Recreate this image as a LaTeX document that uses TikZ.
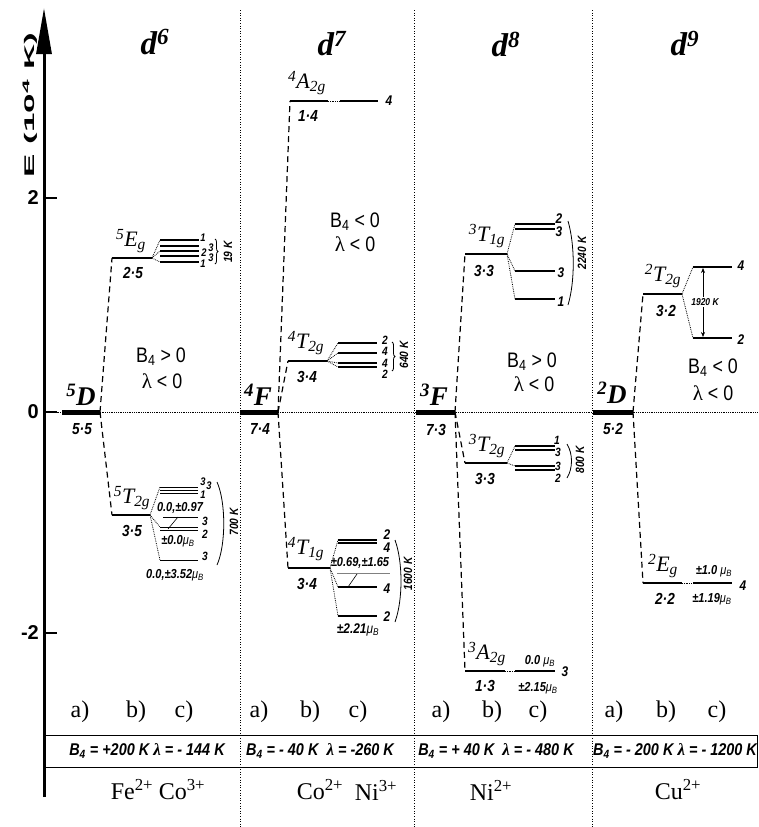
\documentclass[tikz,border=0pt]{standalone}
\usepackage{graphicx}
\usepackage{fontspec}
\setmainfont{Liberation Serif}
\setsansfont{Liberation Sans}
\newfontfamily\condsf[FakeStretch=0.85]{Liberation Sans}
\usetikzlibrary{arrows.meta,decorations.pathreplacing}
\newcommand{\term}[3]{\textsuperscript{#1}#2\textsubscript{#3}}
\newcommand{\muB}{{\mdseries μ\textsubscript{B}}}

\begin{document}
\begin{tikzpicture}[x=1pt,y=-1pt,
	big/.style={line width=5pt},
	mid/.style={line width=2.8pt},
	sub/.style={line width=1.5pt},
	thin/.style={line width=1pt},
	link/.style={dash pattern=on 6pt off 4pt,line width=1.2pt},
	fan/.style={densely dotted,line width=0.8pt},
	sep/.style={dotted,line width=0.6pt},
	zero/.style={densely dotted,line width=0.8pt},
	pointer/.style={line width=0.6pt},
	head/.style={font=\bfseries\itshape\fontsize{33}{33}\selectfont},
	mainterm/.style={inner sep=0pt,font=\bfseries\itshape\fontsize{27}{27}\selectfont},
	trm/.style={inner sep=0pt,font=\itshape\fontsize{22}{22}\selectfont},
	lab/.style={inner sep=0pt,font=\condsf\bfseries\itshape\fontsize{16}{16}\selectfont},
	num/.style={inner sep=0pt,font=\condsf\bfseries\itshape\fontsize{14}{14}\selectfont},
	stack/.style={inner sep=0pt,font=\condsf\bfseries\itshape\fontsize{12}{12}\selectfont},
	tiny/.style={inner sep=0pt,font=\condsf\bfseries\itshape\fontsize{11}{11}\selectfont},
	mom/.style={inner sep=0pt,font=\condsf\bfseries\itshape\fontsize{13}{13}\selectfont},
	split/.style={inner sep=0pt,rotate=90,font=\condsf\bfseries\itshape\fontsize{12}{12}\selectfont},
	cond/.style={inner sep=0pt,font=\condsf\fontsize{21}{21}\selectfont},
	tick/.style={inner sep=0pt,font=\sffamily\bfseries\fontsize{20}{20}\selectfont},
	abc/.style={inner sep=0pt,font=\fontsize{24}{24}\selectfont},
	param/.style={inner sep=0pt,font=\condsf\bfseries\itshape\fontsize{17}{17}\selectfont},
	ion/.style={inner sep=0pt,font=\fontsize{24}{24}\selectfont}]
	\useasboundingbox (0,0) rectangle (759,827);
	\foreach \x in {240,414,592}
		\draw[sep] (\x,10) -- (\x,827);
	\draw[zero] (44,412) -- (757,412);

	\coordinate (E0) at (44,797);
	\coordinate (E1) at (44,8);
	\draw[line width=3pt,-{Triangle[length=46pt,width=15pt]}] (E0) -- (E1);
	\foreach \y/\lbl in {198/2,412/0,633/-2} {
		\draw[line width=2pt] (44,\y) -- (57,\y);
		\node[tick,anchor=east] (t\lbl) at (39,\y) {\lbl};
	}
	\node[rotate=90,font=\sffamily\bfseries\fontsize{14}{14}\selectfont] (Elab) at (30,105) {\scalebox{2.5}[1]{E (10\textsuperscript{4} K)}};

	\node[head] (d6) at (155,42) {d\textsuperscript{6}};
	\node[head] (d7) at (332,44) {d\textsuperscript{7}};
	\node[head] (d8) at (506,44) {d\textsuperscript{8}};
	\node[head] (d9) at (685,44) {d\textsuperscript{9}};

	% d6
	\coordinate (D6a) at (62,412);
	\coordinate (D6b) at (100,412);
	\draw[big] (D6a) -- (D6b);
	\node[mainterm] (tD6) at (81,395) {\textsuperscript{5}D};
	\node[lab] (gD6) at (82,429) {5·5};
	\coordinate (E6a) at (112,258);
	\coordinate (E6b) at (152,258);
	\draw[mid] (E6a) -- (E6b);
	\draw[link] (D6b) -- (E6a);
	\node[trm] (tE6) at (131,241) {\term{5}{E}{g}};
	\node[lab] (gE6) at (133,273) {2·5};
	\foreach \y [count=\i] in {240,246,251,256,262} {
		\coordinate (E6s\i) at (160,\y);
		\draw[sub] (E6s\i) -- ++(39,0);
	}
	\foreach \i in {1,3,5}
		\draw[fan] (E6b) -- (E6s\i);
	\node[tiny] (nE6a) at (203,238) {1};
	\node[tiny] (nE6b) at (211,248) {3};
	\node[tiny] (nE6c) at (204,253) {2};
	\node[tiny] (nE6d) at (211,258) {3};
	\node[tiny] (nE6e) at (203,264) {1};
	\draw[decorate,decoration={brace,amplitude=3pt},line width=0.8pt] (215,239) -- (215,264);
	\node[split] (sE6) at (228,252) {19 K};

	\coordinate (T6a) at (112,515);
	\coordinate (T6b) at (150,515);
	\draw[mid] (T6a) -- (T6b);
	\draw[link] (D6b) -- (T6a);
	\node[trm] (tT6) at (132,498) {\term{5}{T}{2g}};
	\node[lab] (gT6) at (132,531) {3·5};
	\foreach \y [count=\i] in {487,490,493,527,530,560} {
		\coordinate (T6s\i) at (160,\y);
		\draw[thin] (T6s\i) -- ++(38,0);
	}
	\foreach \i in {1,4,6}
		\draw[fan] (T6b) -- (T6s\i);
	\node[tiny] (nT6a) at (203,482) {3};
	\node[tiny] (nT6b) at (209,486) {3};
	\node[tiny] (nT6c) at (203,495) {1};
	\node[stack] (nT6d) at (205,521) {3};
	\node[stack] (nT6e) at (205,534) {2};
	\node[stack] (nT6f) at (205,556) {3};
	\node[mom] (mT6a) at (180,508) {0.0,±0.97};
	\coordinate (P6a) at (163,517);
	\coordinate (P6b) at (198,517);
	\coordinate (P6c) at (168,529);
	\coordinate (P6d) at (178,517);
	\draw[pointer] (P6a) -- (P6b);
	\draw[pointer] (P6c) -- (P6d);
	\node[mom] (mT6b) at (178,541) {±0.0\muB};
	\node[mom] (mT6c) at (175,575) {0.0,±3.52\muB};
	\draw[line width=0.8pt] (217,482) .. controls (226,502) and (226,545) .. (217,565);
	\node[split] (sT6) at (234,522) {700 K};
	\node[cond] (c6a) at (161,357) {B\textsubscript{4} > 0};
	\node[cond] (c6b) at (162,381) {{\rmfamily λ} < 0};

	% d7
	\coordinate (F7a) at (240,412);
	\coordinate (F7b) at (278,412);
	\draw[big] (F7a) -- (F7b);
	\node[mainterm] (tF7) at (258,395) {\textsuperscript{4}F};
	\node[lab] (gF7) at (260,429) {7·4};
	\coordinate (A7a) at (290,101);
	\coordinate (A7b) at (328,101);
	\draw[mid] (A7a) -- (A7b);
	\draw[link] (F7b) -- (A7a);
	\node[trm] (tA7) at (307,83) {\term{4}{A}{2g}};
	\node[lab] (gA7) at (308,116) {1·4};
	\coordinate (A7s) at (340,101);
	\draw[fan] (A7b) -- (A7s);
	\draw[sub] (A7s) -- ++(38,0);
	\node[num] (nA7) at (389,101) {4};

	\coordinate (T7a) at (288,361);
	\coordinate (T7b) at (327,361);
	\draw[mid] (T7a) -- (T7b);
	\draw[link] (F7b) -- (T7a);
	\node[trm] (tT7) at (306,343) {\term{4}{T}{2g}};
	\node[lab] (gT7) at (307,377) {3·4};
	\foreach \y [count=\i] in {343,353,363,367} {
		\coordinate (T7s\i) at (338,\y);
		\draw[sub] (T7s\i) -- ++(39,0);
	}
	\foreach \i in {1,2,3,4}
		\draw[fan] (T7b) -- (T7s\i);
	\node[stack] (nT7a) at (385,340) {2};
	\node[stack] (nT7b) at (385,351) {4};
	\node[stack] (nT7c) at (385,363) {4};
	\node[stack] (nT7d) at (385,374) {2};
	\draw[decorate,decoration={brace,amplitude=3pt},line width=0.8pt] (392,342) -- (392,371);
	\node[split] (sT7) at (404,355) {640 K};

	\coordinate (U7a) at (288,568);
	\coordinate (U7b) at (330,568);
	\draw[mid] (U7a) -- (U7b);
	\draw[link] (F7b) -- (U7a);
	\node[trm] (tU7) at (306,549) {\term{4}{T}{1g}};
	\node[lab] (gU7) at (307,584) {3·4};
	\foreach \y [count=\i] in {540,543,587,616} {
		\coordinate (U7s\i) at (338,\y);
		\draw[sub] (U7s\i) -- ++(39,0);
	}
	\foreach \i in {1,3,4}
		\draw[fan] (U7b) -- (U7s\i);
	\node[num] (nU7a) at (387,535) {2};
	\node[num] (nU7b) at (387,548) {4};
	\node[num] (nU7c) at (387,589) {4};
	\node[num] (nU7d) at (387,617) {2};
	\node[mom] (mU7a) at (360,563) {±0.69,±1.65};
	\coordinate (P7a) at (337,573);
	\coordinate (P7b) at (390,573);
	\coordinate (P7c) at (348,587);
	\coordinate (P7d) at (357,574);
	\draw[pointer,gray] (P7a) -- (P7b);
	\draw[pointer] (P7c) -- (P7d);
	\node[num] (mU7b) at (358,630) {±2.21\muB};
	\draw[line width=0.8pt] (395,540) .. controls (403,562) and (403,600) .. (395,622);
	\node[split] (sU7) at (408,574) {1600 K};
	\node[cond] (c7a) at (355,222) {B\textsubscript{4} < 0};
	\node[cond] (c7b) at (355,244) {{\rmfamily λ} < 0};

	% d8
	\coordinate (F8a) at (416,412);
	\coordinate (F8b) at (455,412);
	\draw[big] (F8a) -- (F8b);
	\node[mainterm] (tF8) at (434,395) {\textsuperscript{3}F};
	\node[lab] (gF8) at (436,430) {7·3};
	\coordinate (T8a) at (465,254);
	\coordinate (T8b) at (507,254);
	\draw[mid] (T8a) -- (T8b);
	\draw[link] (F8b) -- (T8a);
	\node[trm] (tT8) at (487,236) {\term{3}{T}{1g}};
	\node[lab] (gT8) at (484,271) {3·3};
	\foreach \y [count=\i] in {224,229,271,299} {
		\coordinate (T8s\i) at (515,\y);
		\draw[sub] (T8s\i) -- ++(40,0);
	}
	\foreach \i in {1,3,4}
		\draw[fan] (T8b) -- (T8s\i);
	\node[num] (nT8a) at (559,219) {2};
	\node[num] (nT8b) at (559,232) {3};
	\node[num] (nT8c) at (561,273) {3};
	\node[num] (nT8d) at (561,302) {1};
	\draw[line width=0.8pt] (568,221) .. controls (575,245) and (575,282) .. (568,305);
	\node[split] (sT8) at (582,253) {2240 K};

	\coordinate (W8a) at (465,463);
	\coordinate (W8b) at (507,463);
	\draw[mid] (W8a) -- (W8b);
	\draw[link] (F8b) -- (W8a);
	\node[trm] (tW8) at (487,446) {\term{3}{T}{2g}};
	\node[lab] (gW8) at (485,479) {3·3};
	\foreach \y [count=\i] in {446,450,466,470} {
		\coordinate (W8s\i) at (515,\y);
		\draw[sub] (W8s\i) -- ++(40,0);
	}
	\foreach \i in {1,3}
		\draw[fan] (W8b) -- (W8s\i);
	\node[stack] (nW8a) at (557,440) {1};
	\node[stack] (nW8b) at (558,452) {3};
	\node[stack] (nW8c) at (558,466) {3};
	\node[stack] (nW8d) at (558,478) {2};
	\draw[line width=0.8pt] (567,444) .. controls (573,454) and (573,468) .. (567,478);
	\node[split] (sW8) at (580,460) {800 K};

	\coordinate (A8a) at (465,671);
	\coordinate (A8b) at (505,671);
	\draw[mid] (A8a) -- (A8b);
	\draw[link] (F8b) -- (A8a);
	\node[trm] (tA8) at (487,654) {\term{3}{A}{2g}};
	\node[lab] (gA8) at (485,686) {1·3};
	\coordinate (A8s) at (515,671);
	\draw[fan] (A8b) -- (A8s);
	\draw[mid] (A8s) -- ++(40,0);
	\node[mom] (mA8a) at (540,661) {0.0 \muB};
	\node[mom] (mA8b) at (538,688) {±2.15\muB};
	\node[num] (nA8) at (565,672) {3};
	\node[cond] (c8a) at (532,362) {B\textsubscript{4} > 0};
	\node[cond] (c8b) at (534,384) {{\rmfamily λ} < 0};

	% d9
	\coordinate (D9a) at (593,412);
	\coordinate (D9b) at (633,412);
	\draw[big] (D9a) -- (D9b);
	\node[mainterm] (tD9) at (612,393) {\textsuperscript{2}D};
	\node[lab] (gD9) at (613,429) {5·2};
	\coordinate (T9a) at (643,294);
	\coordinate (T9b) at (682,294);
	\draw[mid] (T9a) -- (T9b);
	\draw[link] (D9b) -- (T9a);
	\node[trm] (tT9) at (663,276) {\term{2}{T}{2g}};
	\node[lab] (gT9) at (666,311) {3·2};
	\coordinate (T9s1) at (693,267);
	\coordinate (T9s2) at (693,338);
	\draw[sub] (T9s1) -- ++(39,0);
	\draw[sub] (T9s2) -- ++(39,0);
	\draw[fan] (T9b) -- (T9s1);
	\draw[fan] (T9b) -- (T9s2);
	\node[num] (nT9a) at (741,266) {4};
	\node[num] (nT9b) at (741,340) {2};
	\coordinate (G9a) at (703,268);
	\coordinate (G9b) at (703,337);
	\draw[{Stealth[length=5pt,width=4pt]}-{Stealth[length=5pt,width=4pt]},line width=0.6pt] (G9a) -- (G9b);
	\node[num,fill=white,inner sep=1pt,font=\condsf\bfseries\itshape\fontsize{10}{10}\selectfont] (sT9) at (705,302) {1920 K};

	\coordinate (E9a) at (643,583);
	\coordinate (E9b) at (682,583);
	\draw[mid] (E9a) -- (E9b);
	\draw[link] (D9b) -- (E9a);
	\node[trm] (tE9) at (663,566) {\term{2}{E}{g}};
	\node[lab] (gE9) at (665,599) {2·2};
	\coordinate (E9s) at (693,583);
	\draw[fan] (E9b) -- (E9s);
	\draw[mid] (E9s) -- ++(39,0);
	\node[mom] (mE9a) at (714,571) {±1.0 \muB};
	\node[mom] (mE9b) at (712,599) {±1.19\muB};
	\node[num] (nE9) at (743,586) {4};
	\node[cond] (c9a) at (713,368) {B\textsubscript{4} < 0};
	\node[cond] (c9b) at (713,393) {{\rmfamily λ} < 0};

	% bottom
	\foreach \x/\lbl [count=\i] in {80/a),136/b),184/c),259/a),310/b),358/c),441/a),492/b),538/c),614/a),666/b),717/c)}
		\node[abc] (abc\i) at (\x,712) {\lbl};
	\draw[line width=0.8pt] (44,735) rectangle (757,767);
	\node[param] (p6) at (147,751) {B\textsubscript{4} = +200 K {\rmfamily λ} = - 144 K};
	\node[param] (p7) at (320,751) {B\textsubscript{4} = - 40 K \ {\rmfamily λ} = -260 K};
	\node[param] (p8) at (496,751) {B\textsubscript{4} = + 40 K \ {\rmfamily λ} = - 480 K};
	\node[param] (p9) at (675,751) {B\textsubscript{4} = - 200 K {\rmfamily λ} = - 1200 K};
	\node[ion] (i6a) at (132,790) {Fe\textsuperscript{2+}};
	\node[ion] (i6b) at (182,790) {Co\textsuperscript{3+}};
	\node[ion] (i7a) at (320,790) {Co\textsuperscript{2+}};
	\node[ion] (i7b) at (376,790) {Ni\textsuperscript{3+}};
	\node[ion] (i8) at (491,790) {Ni\textsuperscript{2+}};
	\node[ion] (i9) at (678,790) {Cu\textsuperscript{2+}};
\end{tikzpicture}
\end{document}
